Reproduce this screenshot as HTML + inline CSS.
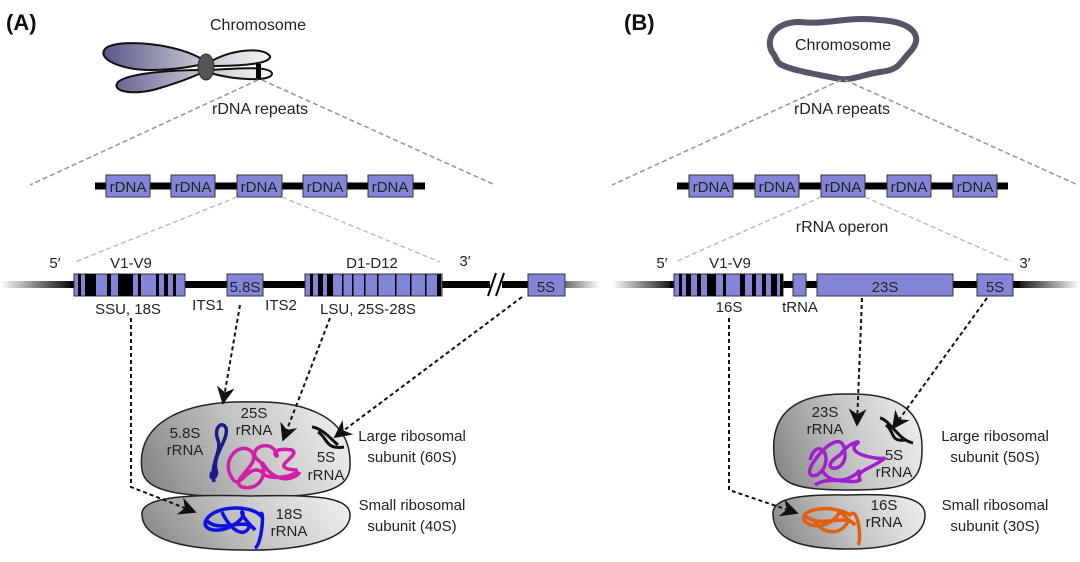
<!DOCTYPE html>
<html><head><meta charset="utf-8"><style>
html,body{margin:0;padding:0;background:#fff;}
svg{display:block;}
text{font-family:"Liberation Sans",Arial,sans-serif;fill:#222;}
</style></head><body>
<svg width="1080" height="562" viewBox="0 0 1080 562" xmlns="http://www.w3.org/2000/svg">
<defs>
<linearGradient id="fadeL" x1="0" x2="1"><stop offset="0" stop-color="#000" stop-opacity="0"/><stop offset="1" stop-color="#000"/></linearGradient>
<linearGradient id="fadeR" x1="0" x2="1"><stop offset="0" stop-color="#000"/><stop offset="1" stop-color="#000" stop-opacity="0"/></linearGradient>
<linearGradient id="dashL" x1="0" x2="1"><stop offset="0" stop-color="#ddd"/><stop offset="1" stop-color="#222"/></linearGradient>
<linearGradient id="dashR" x1="0" x2="1"><stop offset="0" stop-color="#222"/><stop offset="1" stop-color="#ddd"/></linearGradient>
<linearGradient id="chr" gradientUnits="userSpaceOnUse" x1="105" x2="270" y1="0" y2="0"><stop offset="0" stop-color="#5a5a8c"/><stop offset="0.55" stop-color="#c0c0cc"/><stop offset="1" stop-color="#f6f6f6"/></linearGradient>
<linearGradient id="rib" x1="0" x2="1" y1="0.6" y2="0.4"><stop offset="0" stop-color="#8a8a8a"/><stop offset="0.5" stop-color="#c4c4c4"/><stop offset="1" stop-color="#ececec"/></linearGradient>
<marker id="ah" viewBox="0 0 10 10" refX="9" refY="5" markerWidth="9" markerHeight="9" orient="auto"><path d="M0,0 L10,5 L0,10 L3,5z" fill="#111"/></marker>
</defs>

<!-- Panel A -->
<text x="6" y="30" font-size="22" font-weight="bold" style="fill:#111">(A)</text>
<text x="210" y="30" font-size="16">Chromosome</text>
<!-- chromosome -->
<path d="M203,60 C180,44 120,38 106,48 C95,58 120,70 150,70 C175,70 195,66 203,64 Z" fill="url(#chr)" stroke="#111" stroke-width="2"/>
<path d="M203,70 C180,70 130,72 118,82 C110,92 135,96 160,88 C180,82 195,76 203,72 Z" fill="url(#chr)" stroke="#111" stroke-width="2"/>
<path d="M210,62 C230,50 262,46 270,56 C272,64 240,66 210,66 Z" fill="url(#chr)" stroke="#111" stroke-width="2"/>
<path d="M210,70 C240,68 272,66 272,74 C270,82 235,80 210,73 Z" fill="url(#chr)" stroke="#111" stroke-width="2"/>
<ellipse cx="206" cy="67" rx="8" ry="13" fill="#555" stroke="#333"/>
<rect x="256" y="64" width="5" height="14" fill="#000"/>
<text x="212" y="114" font-size="16">rDNA repeats</text>
<path d="M258,80 L30,185 M262,80 L495,185" stroke="#999" stroke-width="1.6" stroke-dasharray="5,3" fill="none"/>
<line x1="30" y1="186" x2="95" y2="186" stroke="url(#dashL)" stroke-width="6" stroke-dasharray="7,5"/>
<line x1="425" y1="186" x2="495" y2="186" stroke="url(#dashR)" stroke-width="6" stroke-dasharray="7,5"/>
<line x1="95" y1="186" x2="425" y2="186" stroke="#000" stroke-width="7"/>
<g fill="#8484d8" stroke="#333" stroke-width="1">
<rect x="106" y="175" width="44" height="22"/><rect x="171" y="175" width="44" height="22"/><rect x="237" y="175" width="45" height="22"/><rect x="303" y="175" width="44" height="22"/><rect x="368" y="175" width="45" height="22"/>
</g>
<g font-size="15" text-anchor="middle"><text x="128" y="192">rDNA</text><text x="193" y="192">rDNA</text><text x="259" y="192">rDNA</text><text x="325" y="192">rDNA</text><text x="390" y="192">rDNA</text></g>
<path d="M237,197 L75,262 M282,197 L440,262" stroke="#bbb" stroke-width="1.4" stroke-dasharray="5,3" fill="none"/>

<!-- gene line A -->
<rect x="0" y="281" width="75" height="7" fill="url(#fadeL)"/>
<line x1="70" y1="284.5" x2="540" y2="284.5" stroke="#000" stroke-width="7"/>
<rect x="540" y="281" width="60" height="7" fill="url(#fadeR)"/>
<rect x="490" y="276" width="12" height="18" fill="#fff"/>
<path d="M488,296 L496,273 M496,296 L504,273" stroke="#000" stroke-width="2"/>
<rect x="74" y="274" width="111" height="22" fill="#8484d8" stroke="#333"/>
<g fill="#000"><rect x="78" y="274" width="3" height="22"/><rect x="85" y="274" width="11" height="22"/><rect x="107" y="274" width="4" height="22"/><rect x="118" y="274" width="15" height="22"/><rect x="138" y="274" width="3" height="22"/><rect x="156" y="274" width="3" height="22"/><rect x="164" y="274" width="4" height="22"/><rect x="173" y="274" width="3" height="22"/></g>
<rect x="227" y="274" width="36" height="22" fill="#8484d8" stroke="#333"/>
<rect x="305" y="274" width="137" height="22" fill="#8484d8" stroke="#333"/>
<g fill="#000"><rect x="310" y="274" width="3" height="22"/><rect x="318" y="274" width="5" height="22"/><rect x="327" y="274" width="6" height="22"/><rect x="352" y="274" width="1.5" height="22"/><rect x="364" y="274" width="1.5" height="22"/><rect x="377" y="274" width="1.5" height="22"/><rect x="395" y="274" width="1.5" height="22"/><rect x="410" y="274" width="1.5" height="22"/><rect x="425" y="274" width="1.5" height="22"/><rect x="437" y="274" width="4" height="22"/><rect x="342" y="274" width="1.5" height="22"/></g>
<rect x="528" y="274" width="37" height="22" fill="#8484d8" stroke="#333"/>
<g font-size="15" text-anchor="middle">
<text x="55" y="268">5′</text><text x="131" y="268">V1-V9</text><text x="372" y="268">D1-D12</text><text x="465" y="266">3′</text>
<text x="245" y="292">5.8S</text><text x="546" y="292">5S</text>
<text x="128" y="314">SSU, 18S</text><text x="208" y="310">ITS1</text><text x="281" y="310">ITS2</text><text x="368" y="314">LSU, 25S-28S</text>
</g>
<!-- ribosome A -->
<path d="M142,470 C135,420 190,400 250,402 C310,400 350,420 350,462 C352,492 320,497 250,497 C180,497 145,492 142,470 Z" fill="url(#rib)" stroke="#222" stroke-width="1.5"/>
<path d="M142,515 C140,498 180,494 250,496 C320,494 350,498 350,515 C350,540 300,551 245,550 C185,550 143,540 142,515 Z" fill="url(#rib)" stroke="#222" stroke-width="1.5"/>
<path d="M214,482 C210,462 222,452 218,440 C213,428 222,420 226,428 C229,440 212,455 216,470 C219,478 208,482 212,472" stroke="#1a1a8a" stroke-width="3.5" fill="none"/>
<path d="M232,478 C220,460 240,440 252,452 C262,465 228,480 242,487 C262,492 270,468 258,460 C246,450 268,438 276,452 C282,464 262,446 292,450 C302,456 266,468 296,470 C300,476 266,482 262,472 C248,462 240,492 232,478 M262,462 C275,485 295,480 300,472" stroke="#d020a8" stroke-width="3.5" fill="none"/>
<path d="M312,427 C322,428 332,440 338,445 M318,432 C328,438 325,450 344,447" stroke="#111" stroke-width="3" fill="none"/>
<path d="M206,520 C215,505 250,505 260,515 C265,505 262,545 255,548 M206,520 C200,532 225,535 240,520 C250,510 230,505 255,530 C245,515 220,535 206,520 M222,512 C230,530 245,540 250,525" stroke="#1010e0" stroke-width="3.5" fill="none"/>
<g font-size="15" text-anchor="middle">
<text x="254" y="418">25S</text><text x="254" y="435">rRNA</text>
<text x="185" y="438">5.8S</text><text x="185" y="455">rRNA</text>
<text x="326" y="462">5S</text><text x="326" y="480">rRNA</text>
<text x="289" y="519">18S</text><text x="289" y="536">rRNA</text>
<text x="412" y="441">Large ribosomal</text><text x="412" y="462">subunit (60S)</text>
<text x="412" y="510">Small ribosomal</text><text x="412" y="531">subunit (40S)</text>
</g>
<g stroke="#111" stroke-width="2" stroke-dasharray="4,3" fill="none" marker-end="url(#ah)">
<path d="M131,318 L131,487 L195,512"/>
<path d="M240,305 L223,403"/>
<path d="M330,318 L283,440"/>
<path d="M522,297 L335,437"/>
</g>

<!-- Panel B -->
<text x="624" y="30" font-size="22" font-weight="bold" style="fill:#111">(B)</text>
<path d="M772,52 C765,38 775,22 800,22 C830,25 845,16 880,20 C912,22 925,36 910,52 C900,62 900,70 880,72 C860,75 850,82 835,78 C815,74 790,70 780,64 C775,60 776,56 772,52 Z" fill="none" stroke="#55556a" stroke-width="6"/>
<text x="843" y="50" font-size="16" text-anchor="middle">Chromosome</text>
<text x="842" y="114" font-size="16" text-anchor="middle">rDNA repeats</text>
<path d="M841,80 L612,185 M845,80 L1078,185" stroke="#999" stroke-width="1.6" stroke-dasharray="5,3" fill="none"/>
<line x1="612" y1="186" x2="677" y2="186" stroke="url(#dashL)" stroke-width="6" stroke-dasharray="7,5"/>
<line x1="1008" y1="186" x2="1078" y2="186" stroke="url(#dashR)" stroke-width="6" stroke-dasharray="7,5"/>
<line x1="677" y1="186" x2="1008" y2="186" stroke="#000" stroke-width="7"/>
<g fill="#8484d8" stroke="#333" stroke-width="1">
<rect x="689" y="175" width="44" height="22"/><rect x="755" y="175" width="44" height="22"/><rect x="821" y="175" width="44" height="22"/><rect x="887" y="175" width="44" height="22"/><rect x="953" y="175" width="44" height="22"/>
</g>
<g font-size="15" text-anchor="middle"><text x="711" y="192">rDNA</text><text x="777" y="192">rDNA</text><text x="843" y="192">rDNA</text><text x="909" y="192">rDNA</text><text x="975" y="192">rDNA</text></g>
<path d="M821,197 L675,262 M865,197 L1012,262" stroke="#bbb" stroke-width="1.4" stroke-dasharray="5,3" fill="none"/>
<text x="842" y="232" font-size="16" text-anchor="middle">rRNA operon</text>

<rect x="612" y="281" width="65" height="7" fill="url(#fadeL)"/>
<line x1="670" y1="284.5" x2="1020" y2="284.5" stroke="#000" stroke-width="7"/>
<rect x="1013" y="281" width="67" height="7" fill="url(#fadeR)"/>
<rect x="674" y="274" width="109" height="22" fill="#8484d8" stroke="#333"/>
<g fill="#000"><rect x="679" y="274" width="3" height="22"/><rect x="686" y="274" width="5" height="22"/><rect x="697" y="274" width="4" height="22"/><rect x="707" y="274" width="9" height="22"/><rect x="723" y="274" width="3" height="22"/><rect x="740" y="274" width="5" height="22"/><rect x="752" y="274" width="4" height="22"/><rect x="762" y="274" width="4" height="22"/><rect x="771" y="274" width="6" height="22"/><rect x="780" y="274" width="3" height="22"/></g>
<rect x="793" y="274" width="13" height="22" fill="#8484d8" stroke="#333"/>
<rect x="817" y="274" width="136" height="22" fill="#8484d8" stroke="#333"/>
<rect x="977" y="274" width="36" height="22" fill="#8484d8" stroke="#333"/>
<g font-size="15" text-anchor="middle">
<text x="662" y="268">5′</text><text x="730" y="268">V1-V9</text><text x="1025" y="268">3′</text>
<text x="885" y="292">23S</text><text x="995" y="292">5S</text>
<text x="729" y="312">16S</text><text x="800" y="312">tRNA</text>
</g>
<!-- ribosome B -->
<path d="M774,455 C770,410 800,393 848,394 C900,393 923,412 922,450 C922,485 905,490 850,490 C795,490 776,485 774,455 Z" fill="url(#rib)" stroke="#222" stroke-width="1.5"/>
<path d="M773,515 C771,498 800,494 848,495 C900,493 925,498 925,515 C925,540 890,549 850,549 C800,549 774,540 773,515 Z" fill="url(#rib)" stroke="#222" stroke-width="1.5"/>
<path d="M810,460 C815,440 830,450 825,465 C820,480 800,480 815,460 C825,445 845,430 845,455 C845,475 815,470 840,455 C850,440 865,440 855,445 C848,455 880,460 885,458 C870,470 855,470 860,480 C850,485 830,475 815,485 M822,470 C830,485 850,482 860,470" stroke="#a020d0" stroke-width="3.5" fill="none"/>
<path d="M880,418 C890,420 898,440 913,443 M886,425 C895,432 890,442 905,440" stroke="#111" stroke-width="3" fill="none"/>
<path d="M804,515 C815,505 840,508 850,515 C858,505 862,540 858,545 M804,515 C800,527 825,530 835,518 C845,510 830,505 855,525 C845,512 820,530 804,515 M815,522 C825,535 840,535 848,522" stroke="#e06010" stroke-width="3.5" fill="none"/>
<g font-size="15" text-anchor="middle">
<text x="825" y="417">23S</text><text x="825" y="434">rRNA</text>
<text x="894" y="460">5S</text><text x="894" y="477">rRNA</text>
<text x="884" y="510">16S</text><text x="884" y="527">rRNA</text>
<text x="995" y="441">Large ribosomal</text><text x="995" y="462">subunit (50S)</text>
<text x="995" y="510">Small ribosomal</text><text x="995" y="531">subunit (30S)</text>
</g>
<g stroke="#111" stroke-width="2" stroke-dasharray="4,3" fill="none" marker-end="url(#ah)">
<path d="M729,318 L729,490 L797,513"/>
<path d="M862,298 L857,425"/>
<path d="M987,298 L893,428"/>
</g>
</svg>
</body></html>
